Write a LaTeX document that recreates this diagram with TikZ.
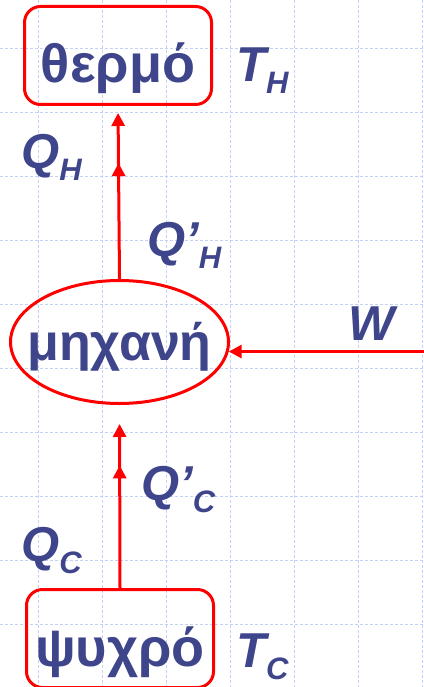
\documentclass[tikz,border=0pt]{standalone}
\usepackage{fontspec}
\setmainfont{Liberation Sans}
\usepackage{xcolor}
\usepackage{tikz}
\usetikzlibrary{arrows.meta,shapes.geometric,decorations.markings}

\definecolor{inkblue}{RGB}{62,69,138}
\definecolor{gridblue}{RGB}{196,208,245}
\definecolor{linered}{RGB}{255,0,0}

\newcommand{\sublow}[1]{\raisebox{-12pt}{\fontsize{31}{31}\selectfont #1}}

\begin{document}
\begin{tikzpicture}[x=1pt,y=-1pt,
    gridline/.style={gridblue,line width=0.8pt,dash pattern=on 3pt off 2pt},
    reservoir/.style={draw=linered,line width=3pt,rounded corners=16pt,
        minimum width=187pt,minimum height=98pt,inner sep=0pt,
        text height=66pt,text depth=11pt,text=inkblue,
        font=\fontsize{54}{54}\selectfont\bfseries},
    machine/.style={ellipse,draw=linered,line width=3pt,
        minimum width=218pt,minimum height=123pt,inner sep=0pt,
        text height=47pt,text depth=11pt,text=inkblue,
        font=\fontsize{52}{52}\selectfont\bfseries},
    symbol/.style={anchor=base west,inner sep=0pt,text=inkblue,
        font=\fontsize{49}{49}\selectfont\bfseries\itshape},
    flow/.style={draw=linered,line width=3pt,
        -{Triangle[length=\tipsz,width=\tipsz]}},
    midtip/.style={postaction={decorate},decoration={markings,
        mark=at position #1 with {\arrow{Triangle[length=\tipsz,width=\tipsz]}}}}]
    \def\tipsz{13pt}

    \useasboundingbox (0,0) rectangle (423,687);

    % background grid
    \foreach \gx in {38,102,...,422} {
        \draw[gridline] (\gx,0) -- (\gx,687);
    }
    \foreach \gy in {48,112,...,624} {
        \draw[gridline] (0,\gy) -- (423,\gy);
    }

    \node[reservoir] (hot) at (118,55.5) {θερμό};
    \node[machine] (engine) at (119.5,342) {\makebox[0pt]{μηχανή}};
    \node[reservoir] (cold) at (120,638.5) {ψυχρό};

    \node[symbol] (tH) at (236,82) {T\sublow{H}};
    \node[symbol] (qH) at (21,168) {Q\sublow{H}};
    \node[symbol] (qHp) at (147,256) {Q’\sublow{H}};
    \node[symbol] (work) at (348,340) {W};
    \node[symbol] (qCp) at (141,500) {Q’\sublow{C}};
    \node[symbol] (qC) at (21,561) {Q\sublow{C}};
    \node[symbol] (tC) at (236,667) {T\sublow{C}};

    \path (engine.-5) ++(195,0) coordinate (wsrc);

    \draw[flow,midtip=0.67,shorten >=7pt] (engine.north) -- (hot.south);
    \draw[flow,midtip=0.67,shorten >=19pt] (cold.north) -- (engine.south);
    \draw[flow] (wsrc) -- (engine.-5);
\end{tikzpicture}
\end{document}
